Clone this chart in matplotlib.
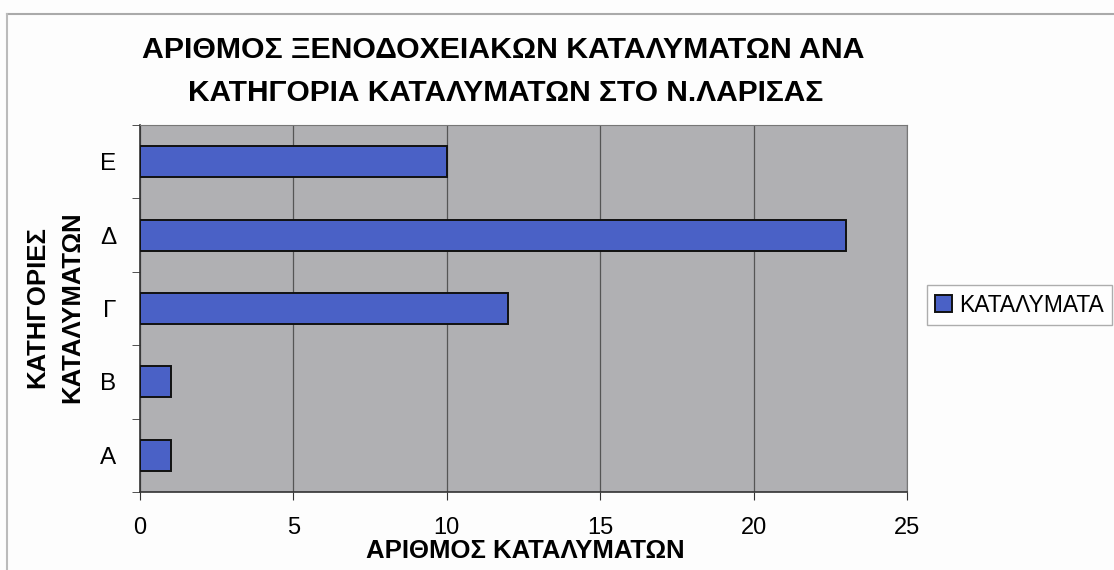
import numpy as np
import matplotlib.pyplot as plt

# data
categories = ['Α', 'Β', 'Γ', 'Δ', 'Ε']
counts = [1, 1, 12, 23, 10]
x_ticks = [0, 5, 10, 15, 20, 25]
series_name = 'ΚΑΤΑΛΥΜΑΤΑ'

plt.rcParams['font.family'] = ['Liberation Sans', 'DejaVu Sans']

W, H = 1114, 570
fig = plt.figure(figsize=(W / 100, H / 100), dpi=100)
fig.patch.set_facecolor('#fdfdfd')

# plot area in pixels
left, right, top, bottom = 140, 907, 125, 492
ax = fig.add_axes([left / W, 1 - bottom / H, (right - left) / W, (bottom - top) / H])
ax.set_facecolor('#b0b0b3')

y = np.arange(len(categories))
ax.barh(y, counts, height=0.42, color='#4a61c6', edgecolor='#111111', linewidth=1.4,
        label=series_name, zorder=3)

ax.set_xlim(0, 25)
ax.set_ylim(-0.5, len(categories) - 0.5)
ax.set_xticks(x_ticks)
ax.set_xticklabels([str(t) for t in x_ticks], fontsize=17)
ax.set_yticks(y)
ax.set_yticklabels(categories, fontsize=17.5)
ax.set_yticks(np.arange(-0.5, len(categories)), minor=True)
ax.tick_params(axis='y', which='major', length=0, pad=17)
ax.tick_params(axis='y', which='minor', length=6, color='#333333')
ax.tick_params(axis='x', length=6, color='#333333', pad=12)
ax.grid(axis='x', color='#555555', linewidth=0.9, zorder=1)
for s in ['top', 'right']:
    ax.spines[s].set_color('#777777')
for s in ['left', 'bottom']:
    ax.spines[s].set_color('#333333')
    ax.spines[s].set_linewidth(1.2)

# titles
fig.text(503 / W, 1 - 50 / H, 'ΑΡΙΘΜΟΣ ΞΕΝΟΔΟΧΕΙΑΚΩΝ ΚΑΤΑΛΥΜΑΤΩΝ ΑΝΑ',
         ha='center', va='center', fontsize=21.8, fontweight='bold')
fig.text(506 / W, 1 - 93 / H, 'ΚΑΤΗΓΟΡΙΑ ΚΑΤΑΛΥΜΑΤΩΝ ΣΤΟ Ν.ΛΑΡΙΣΑΣ',
         ha='center', va='center', fontsize=21.5, fontweight='bold')
fig.text(525 / W, 1 - 551 / H, 'ΑΡΙΘΜΟΣ ΚΑΤΑΛΥΜΑΤΩΝ', ha='center', va='center',
         fontsize=18.5, fontweight='bold')
fig.text(55 / W, 1 - 307 / H, 'ΚΑΤΗΓΟΡΙΕΣ\nΚΑΤΑΛΥΜΑΤΩΝ', ha='center', va='center',
         rotation=90, fontsize=18.5, fontweight='bold', linespacing=1.6)

# legend
leg = fig.legend(loc='center left', bbox_to_anchor=(927 / W, 1 - 305 / H), fontsize=16.5,
                 frameon=True, fancybox=False, edgecolor='#999999', handlelength=0.75,
                 handleheight=0.75, handletextpad=0.3, borderpad=0.35, borderaxespad=0)
leg.get_frame().set_linewidth(1.0)

# chart border from the scan
fig.add_artist(plt.Line2D([7 / W, 1], [1 - 14 / H, 1 - 14 / H], color='#aaaaaa', lw=1.5))
fig.add_artist(plt.Line2D([7 / W, 7 / W], [0, 1 - 14 / H], color='#bbbbbb', lw=1.5))

fig.savefig('out.png', dpi=100, facecolor=fig.get_facecolor())
